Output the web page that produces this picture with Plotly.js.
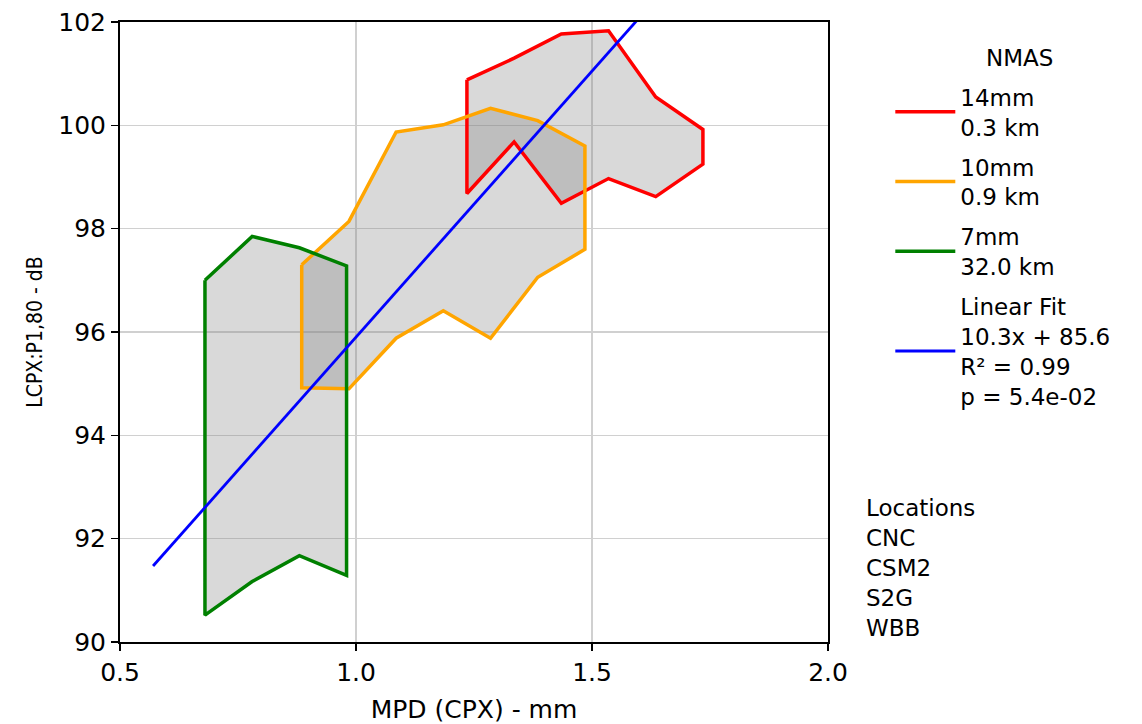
<!DOCTYPE html>
<html>
<head>
<meta charset="utf-8">
<script src="https://cdn.plot.ly/plotly-3.0.1.min.js"></script>
<style>html,body{margin:0;padding:0;background:#fff;}#chart{width:1142px;height:724px;}</style>
</head>
<body>
<div id="chart"></div>
<script>
// ---- data ----
const redX     = [1.235, 1.335, 1.435, 1.535, 1.635, 1.735];
const redUpper = [100.88, 101.30, 101.77, 101.83, 100.55, 99.92];
const redLower = [98.68, 99.68, 98.49, 98.97, 98.62, 99.25];

const orangeX     = [0.885, 0.985, 1.085, 1.185, 1.285, 1.385, 1.485];
const orangeUpper = [97.30, 98.14, 99.87, 100.01, 100.33, 100.09, 99.60];
const orangeLower = [94.92, 94.90, 95.88, 96.41, 95.88, 97.06, 97.60];

const greenX     = [0.68, 0.78, 0.88, 0.98];
const greenUpper = [97.00, 97.85, 97.63, 97.28];
const greenLower = [90.52, 91.17, 91.67, 91.29];

const fitX = [0.57, 1.74];
const fitSlope = 10.3;
const fitIntercept = 85.6;

const legendTitle = "NMAS";
const seriesNames = ["14mm<br>0.3 km", "10mm<br>0.9 km", "7mm<br>32.0 km"];
const fitName = "Linear Fit<br>10.3x + 85.6<br>R² = 0.99<br>p = 5.4e-02";
const locationsTitle = "Locations";
const locations = ["CNC", "CSM2", "S2G", "WBB"];
const xTicks = [0.5, 1.0, 1.5, 2.0];
const xTickText = ["0.5", "1.0", "1.5", "2.0"];
const yTicks = [90, 92, 94, 96, 98, 100, 102];

// ---- build polygons (upper left->right, lower right->left, closed) ----
function poly(xs, up, lo) {
  const px = xs.concat(xs.slice().reverse(), [xs[0]]);
  const py = up.concat(lo.slice().reverse(), [up[0]]);
  return {x: px, y: py};
}
const FONT = "DejaVu Sans, Verdana, sans-serif";
const fillCol = "rgba(128,128,128,0.3)";
const bands = [
  {xs: redX, up: redUpper, lo: redLower, color: "#ff0000", name: seriesNames[0]},
  {xs: orangeX, up: orangeUpper, lo: orangeLower, color: "#ffa500", name: seriesNames[1]},
  {xs: greenX, up: greenUpper, lo: greenLower, color: "#008000", name: seriesNames[2]}
];
const fills = [], outlines = [];
bands.forEach((b, i) => {
  const p = poly(b.xs, b.up, b.lo);
  fills.push({x: p.x, y: p.y, mode: "lines", fill: "toself", fillcolor: fillCol,
              line: {width: 0, color: "rgba(0,0,0,0)"}, showlegend: false, hoverinfo: "skip"});
  outlines.push({x: p.x, y: p.y, mode: "lines", line: {color: b.color, width: 3.5},
                 name: b.name, legendgroup: "g" + i, hoverinfo: "skip"});
});
const fitTrace = {x: fitX, y: fitX.map(v => fitSlope * v + fitIntercept), mode: "lines",
   line: {color: "#0000ff", width: 2.8}, name: fitName, legendgroup: "g3", hoverinfo: "skip"};
const traces = fills.concat(outlines, [fitTrace]);

const layout = {
  width: 1142, height: 724,
  margin: {l: 120, r: 314, t: 22, b: 82},
  paper_bgcolor: "#fff", plot_bgcolor: "#fff",
  font: {family: FONT, size: 24, color: "#000"},
  showlegend: true,
  legend: {
    x: 1.088, xanchor: "left", y: 0.914, yanchor: "top",
    font: {family: FONT, size: 23, color: "#000"},
    bgcolor: "rgba(0,0,0,0)", borderwidth: 0, tracegroupgap: 7, itemwidth: 60,
    traceorder: "grouped"
  },
  xaxis: {
    range: [0.5, 2.0], tickvals: xTicks, ticktext: xTickText,
    showline: true, linecolor: "#000", linewidth: 2, mirror: true,
    ticks: "outside", ticklen: 7, tickwidth: 1.5, tickcolor: "#000",
    showgrid: true, gridcolor: "#d0d0d0", gridwidth: 1.5, zeroline: false,
    tickfont: {family: FONT, size: 25},
    title: {text: "MPD (CPX) - mm", font: {family: FONT, size: 25}, standoff: 14}
  },
  yaxis: {
    range: [90, 102], tickvals: yTicks,
    showline: true, linecolor: "#000", linewidth: 2, mirror: true,
    ticks: "outside", ticklen: 7, tickwidth: 1.5, tickcolor: "#000",
    showgrid: true, gridcolor: "#d0d0d0", gridwidth: 1.5, zeroline: false,
    tickfont: {family: FONT, size: 25},
    title: {text: "LCPX:P1,80 - dB", font: {family: "DejaVu Sans Condensed, DejaVu Sans, sans-serif", size: 21}, standoff: 10}
  },
  annotations: [
    {xref: "paper", yref: "paper", x: 1.27, y: 0.942, xanchor: "center", yanchor: "middle",
     showarrow: false, text: legendTitle, font: {family: FONT, size: 23, color: "#000"}},
    {xref: "paper", yref: "paper", x: 1.051, y: 0.241, xanchor: "left", yanchor: "top",
     align: "left", showarrow: false,
     text: [locationsTitle].concat(locations).join("<br>"),
     font: {family: FONT, size: 23, color: "#000"}}
  ]
};

Plotly.newPlot("chart", traces, layout, {displayModeBar: false, staticPlot: true});
</script>
</body>
</html>
